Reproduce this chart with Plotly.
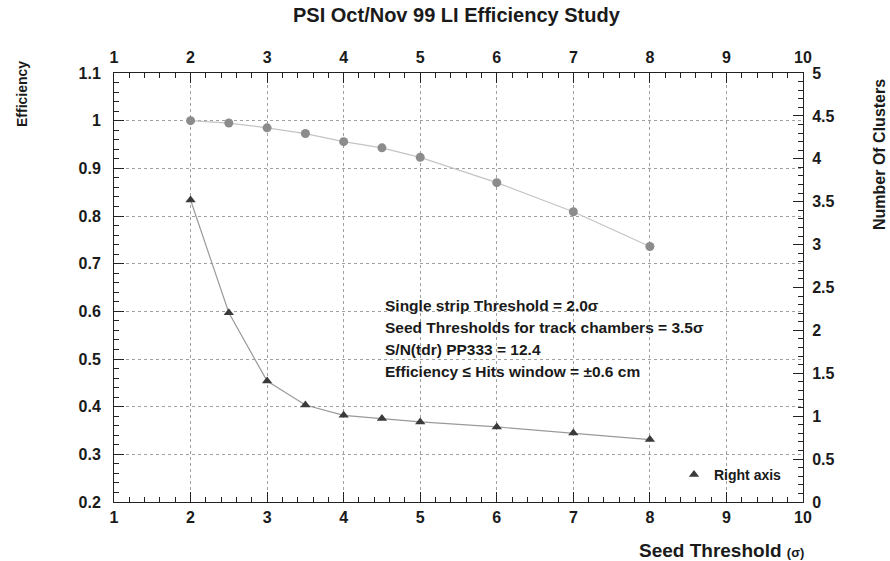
import plotly.graph_objects as go

# Seed threshold settings (in units of sigma)
eff_threshold = [2, 2.5, 3, 3.5, 4, 4.5, 5, 6, 7, 8]
efficiency = [1.0, 0.995, 0.985, 0.973, 0.956, 0.943, 0.923, 0.870, 0.809, 0.736]

clu_threshold = [2, 2.5, 3, 3.5, 4, 4.5, 5, 6, 7, 8]
n_clusters = [3.52, 2.205, 1.41, 1.13, 1.01, 0.973, 0.933, 0.875, 0.805, 0.728]

x_ticks = [1, 2, 3, 4, 5, 6, 7, 8, 9, 10]

info_lines = [
    "Single strip Threshold = 2.0σ",
    "Seed Thresholds for track chambers = 3.5σ",
    "S/N(tdr) PP333 = 12.4",
    "Efficiency ≤ Hits window = ±0.6 cm",
]

W, H = 890, 561
ML, MR, MT, MB = 114, 87, 73, 59
PW, PH = W - ML - MR, H - MT - MB


def px(x):
    return (x - ML) / PW


def py(y):
    return (H - MB - y) / PH


FONT = "Liberation Sans"
INK = "#1a1a1a"

fig = go.Figure()

# efficiency curve (left axis)
fig.add_trace(go.Scatter(
    x=eff_threshold, y=efficiency, mode="lines+markers",
    line=dict(color="#c4c4c4", width=1.2),
    marker=dict(symbol="circle", size=9, color="#8c8c8c"),
    showlegend=False, xaxis="x", yaxis="y",
))

# cluster multiplicity curve (right axis)
fig.add_trace(go.Scatter(
    x=clu_threshold, y=n_clusters, mode="lines",
    line=dict(color="#9a9a9a", width=1.2),
    showlegend=False, xaxis="x", yaxis="y2",
))
fig.add_trace(go.Scatter(
    x=clu_threshold, y=n_clusters, mode="markers",
    marker=dict(symbol="triangle-up", size=9, color="#3a3a3a"),
    name="Right axis", showlegend=True, xaxis="x", yaxis="y2",
))

tickfont = dict(family=FONT, size=16, color=INK, weight="bold")
grid = dict(showgrid=True, gridcolor="#a0a0a0", gridwidth=1, griddash="dot")

common_x = dict(
    range=[1, 10], tickvals=x_ticks, ticks="inside", ticklen=10,
    tickcolor="#222", showline=True, linecolor="#222", linewidth=1,
    tickfont=tickfont, zeroline=False,
    minor=dict(dtick=0.2, ticks="inside", ticklen=5, tickcolor="#222", showgrid=False),
)

fig.update_layout(
    width=W, height=H,
    margin=dict(l=ML, r=MR, t=MT, b=MB),
    paper_bgcolor="white", plot_bgcolor="white",
    xaxis=dict(**common_x, **grid, side="bottom", anchor="y", ticklabelstandoff=1),
    xaxis2=dict(**common_x, showgrid=False, side="top", overlaying="x",
                anchor="y", matches="x", ticklabelstandoff=3),
    yaxis=dict(
        range=[0.2, 1.1], dtick=0.1, tick0=0.2, ticks="inside", ticklen=10,
        tickcolor="#222", showline=True, linecolor="#222", linewidth=1,
        tickfont=tickfont, zeroline=False, **grid, ticklabelstandoff=9,
        minor=dict(dtick=0.02, ticks="inside", ticklen=5, tickcolor="#222", showgrid=False),
    ),
    yaxis2=dict(
        range=[0, 5], dtick=0.5, tick0=0, ticks="inside", ticklen=10,
        tickcolor="#222", showline=True, linecolor="#222", linewidth=1,
        tickfont=tickfont, zeroline=False, showgrid=False, ticklabelstandoff=5,
        side="right", overlaying="y", anchor="x",
        minor=dict(dtick=0.1, ticks="inside", ticklen=5, tickcolor="#222", showgrid=False),
    ),
    legend=dict(
        x=px(674), y=py(475), xanchor="left", yanchor="middle",
        bgcolor="rgba(0,0,0,0)", borderwidth=0,
        font=dict(family=FONT, size=14, color=INK, weight="bold"),
        itemwidth=30,
    ),
    showlegend=True,
)

# give the top axis a (hidden) trace so its ticks render
fig.add_trace(go.Scatter(x=[x_ticks[0]], y=[efficiency[0]], xaxis="x2", yaxis="y",
                         mode="markers", marker=dict(opacity=0), showlegend=False,
                         hoverinfo="skip"))

annotations = [
    dict(text="PSI Oct/Nov 99 LI Efficiency Study", x=px(457), y=py(15),
         font=dict(family=FONT, size=20, color=INK, weight="bold")),
    dict(text="Efficiency", x=px(22), y=py(94), textangle=-90,
         font=dict(family=FONT, size=14, color=INK, weight="bold")),
    dict(text="Number Of Clusters", x=px(879), y=py(155), textangle=-90,
         font=dict(family=FONT, size=16, color=INK, weight="bold")),
    dict(text="Seed Threshold <span style='font-size:13px'>(σ)</span>",
         x=px(806), y=py(550), xanchor="right",
         font=dict(family=FONT, size=19, color=INK, weight="bold")),
]
for i, line in enumerate(info_lines):
    annotations.append(dict(
        text=line, x=px(383), y=py(305 + 22 * i), xanchor="left",
        font=dict(family=FONT, size=15.5, color=INK, weight="bold"),
    ))
for a in annotations:
    a.update(xref="paper", yref="paper", showarrow=False,
             yanchor=a.get("yanchor", "middle"), xanchor=a.get("xanchor", "center"))
fig.update_layout(annotations=annotations)

fig.write_html("out.html")
